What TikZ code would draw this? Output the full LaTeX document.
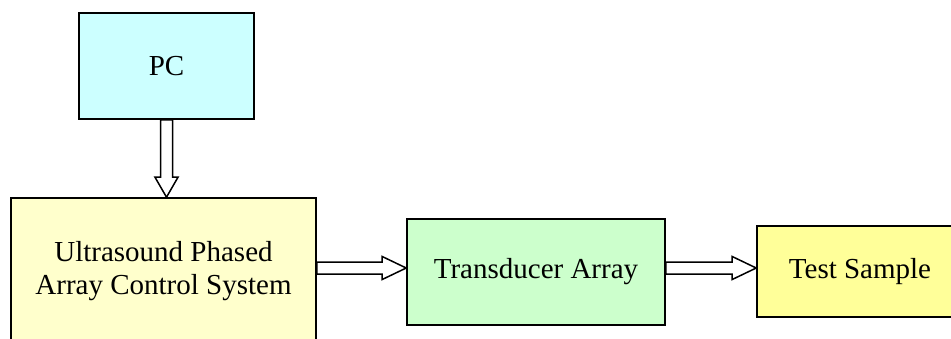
\documentclass[tikz,border=0pt]{standalone}
\usepackage{fontspec}
\setmainfont{Liberation Serif}
\usetikzlibrary{calc}

\definecolor{pccyan}{HTML}{CCFFFF}
\definecolor{ctrlyellow}{HTML}{FFFFCC}
\definecolor{arraygreen}{HTML}{CCFFCC}
\definecolor{sampleyellow}{HTML}{FFFF99}

\tikzset{
  unit/.style={draw=black, line width=1.6pt, align=center, inner sep=0pt,
    font=\fontsize{29}{33}\selectfont},
  hollow/.style={draw=black, fill=white, line width=1.5pt, line join=miter}
}

\begin{document}
\begin{tikzpicture}[x=1pt,y=-1pt]
  \useasboundingbox (0,0) rectangle (951,338);
  \clip (0,0) rectangle (951,338);
  %%%%%%%%%%%%%%%%boxes%%%%%%%%%%%%%%

  \node[unit, fill=pccyan, minimum width=175pt, minimum height=106pt] (pc) at (166.5,66) {PC};
  \node[unit, fill=ctrlyellow, minimum width=305pt, minimum height=146pt] (ucs) at (163.5,271)
    {Ultrasound Phased\\Array Control System};
  \node[unit, fill=arraygreen, minimum width=258pt, minimum height=106pt] (tarray) at (536,272)
    {Transducer Array};
  \node[unit, fill=sampleyellow, minimum width=206pt, minimum height=91pt] (sample) at (860,271.5)
    {Test Sample};

  %%%%%%%%%%%%%%%%block arrows%%%%%%%%%%%%%%

  \draw[hollow] let \p1 = (pc.south), \p2 = (ucs.north) in
    (\x1-6pt,\y1) -- (\x1-6pt,\y2+20pt) -- (\x1-11.5pt,\y2+20pt) -- (\x1,\y2)
    -- (\x1+11.5pt,\y2+20pt) -- (\x1+6pt,\y2+20pt) -- (\x1+6pt,\y1) -- cycle;

  \draw[hollow] let \p1 = (ucs.east), \p2 = (tarray.west) in
    (\x1,\y1+9pt) -- (\x2-24pt,\y1+9pt) -- (\x2-24pt,\y1+14.5pt) -- (\x2,\y1+3pt)
    -- (\x2-24pt,\y1-8.5pt) -- (\x2-24pt,\y1-3pt) -- (\x1,\y1-3pt) -- cycle;

  \draw[hollow] let \p1 = (tarray.east), \p2 = (sample.west) in
    (\x1,\y1+10pt) -- (\x2-24pt,\y1+10pt) -- (\x2-24pt,\y1+15.5pt) -- (\x2,\y1+4pt)
    -- (\x2-24pt,\y1-7.5pt) -- (\x2-24pt,\y1-2pt) -- (\x1,\y1-2pt) -- cycle;

\end{tikzpicture}
\end{document}
